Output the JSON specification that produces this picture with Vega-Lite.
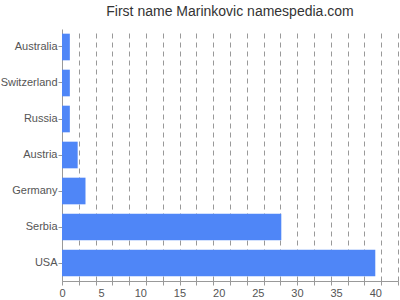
{
  "$schema": "https://vega.github.io/schema/vega-lite/v6.json",
  "autosize": "none",
  "width": 336,
  "height": 252,
  "padding": {"left": 62, "top": 29, "right": 2, "bottom": 19},
  "background": "white",
  "title": {
    "text": "First name Marinkovic namespedia.com",
    "font": "Liberation Sans",
    "fontSize": 14,
    "fontWeight": "normal",
    "color": "#333333",
    "anchor": "middle",
    "offset": 10
  },
  "data": {
    "values": [
      {"country": "Australia", "count": 1},
      {"country": "Switzerland", "count": 1},
      {"country": "Russia", "count": 1},
      {"country": "Austria", "count": 2},
      {"country": "Germany", "count": 3},
      {"country": "Serbia", "count": 28},
      {"country": "USA", "count": 40}
    ]
  },
  "mark": {"type": "bar", "color": "#4f86f7"},
  "encoding": {
    "y": {
      "field": "country",
      "type": "nominal",
      "sort": null,
      "title": null,
      "scale": {"paddingInner": 0.26, "paddingOuter": 0.13},
      "axis": {
        "grid": false,
        "domainColor": "#999999",
        "tickColor": "#999999",
        "tickSize": 4,
        "labelPadding": 1,
        "labelFont": "Liberation Sans",
        "labelFontSize": 11,
        "labelColor": "#555555"
      }
    },
    "x": {
      "field": "count",
      "type": "quantitative",
      "title": null,
      "scale": {"domain": [0, 42.9], "nice": false},
      "axis": {
        "values": [0, 2.145, 4.29, 5, 6.435, 8.58, 10, 10.725, 12.87, 15, 15.015, 17.16, 19.305, 20, 21.45, 23.595, 25, 25.74, 27.885, 30, 30.03, 32.175, 34.32, 35, 36.465, 38.61, 40, 40.755, 42.9],
        "labelExpr": "datum.value % 5 === 0 ? datum.label : ''",
        "labelOverlap": false,
        "labelFlush": false,
        "grid": true,
        "gridDash": [5, 4],
        "gridColor": "#999999",
        "gridOpacity": {"condition": {"test": "datum.value % 5 === 0 && datum.value > 0", "value": 0}, "value": 1},
        "tickOpacity": {"condition": {"test": "datum.value % 5 === 0 && datum.value > 0", "value": 0}, "value": 1},
        "domainColor": "#999999",
        "tickColor": "#999999",
        "tickSize": 4,
        "labelPadding": 2,
        "labelFont": "Liberation Sans",
        "labelFontSize": 11,
        "labelColor": "#555555"
      }
    }
  },
  "config": {"view": {"stroke": null}}
}
